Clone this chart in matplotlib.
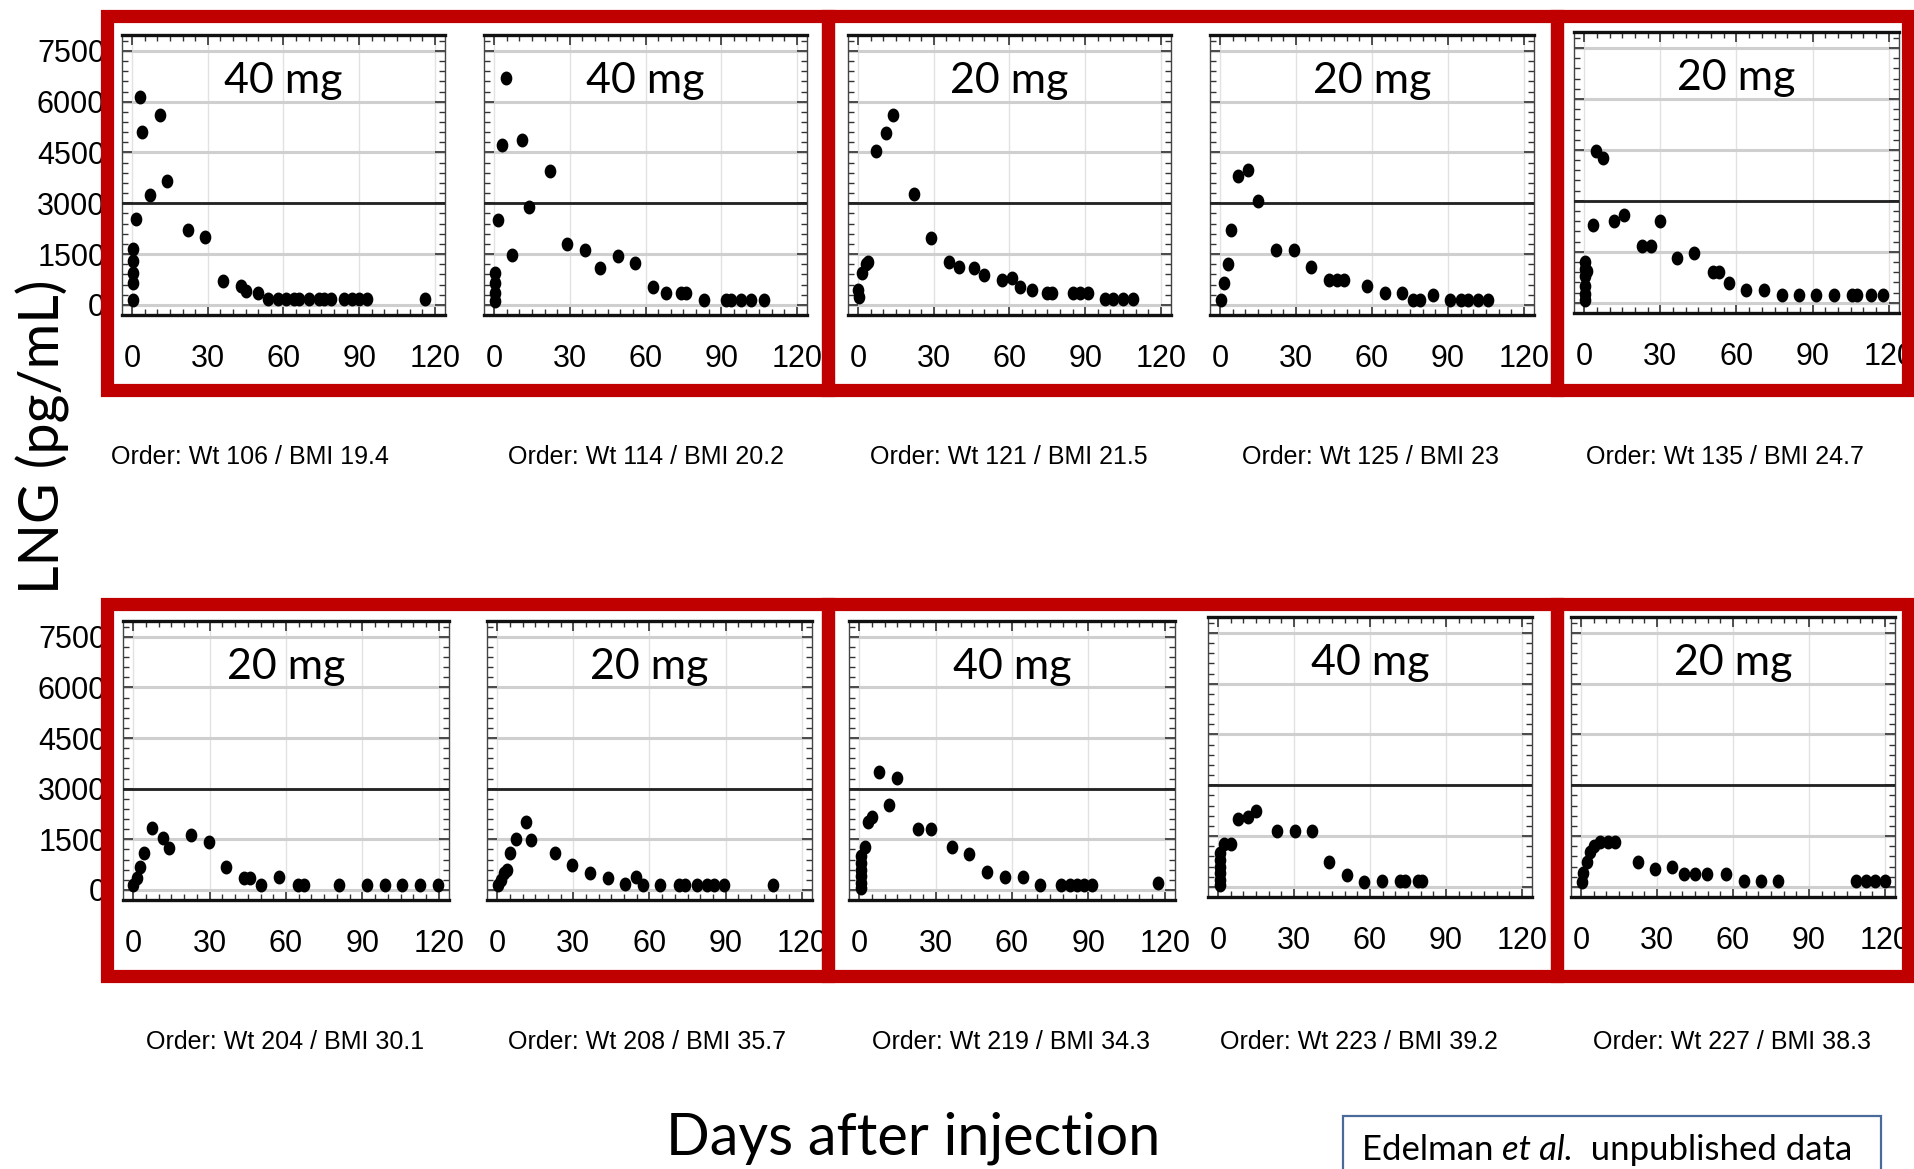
import matplotlib

matplotlib.use("Agg")
import matplotlib.pyplot as plt  # noqa: E402
from matplotlib.patches import Rectangle  # noqa: E402
from matplotlib.path import Path  # noqa: E402
from matplotlib.transforms import Affine2D  # noqa: E402
from matplotlib.ticker import MultipleLocator  # noqa: E402

# ---- data --------------------------------------------------------------
doses = ["40 mg", "40 mg", "20 mg", "20 mg", "20 mg",
         "20 mg", "20 mg", "40 mg", "40 mg", "20 mg"]
subjects = [
    "Order: Wt 106 / BMI 19.4", "Order: Wt 114 / BMI 20.2", "Order: Wt 121 / BMI 21.5",
    "Order: Wt 125 / BMI 23", "Order: Wt 135 / BMI 24.7",
    "Order: Wt 204 / BMI 30.1", "Order: Wt 208 / BMI 35.7", "Order: Wt 219 / BMI 34.3",
    "Order: Wt 223 / BMI 39.2", "Order: Wt 227 / BMI 38.3",
]

days_106 = [0.5, 0.5, 0.5, 0.5, 0.5, 1.5, 3, 4, 7, 11, 14, 22, 29, 36, 43, 45, 50,
            54, 58, 61, 64, 66, 70, 74, 76, 79, 84, 87, 90, 93, 116]
lng_106 = [150, 650, 950, 1300, 1650, 2550, 6150, 5100, 3250, 5600, 3650, 2200, 2000,
           700, 550, 400, 350, 170, 170, 170, 170, 170, 170, 170, 170, 170, 170, 170,
           170, 170, 170]

days_114 = [0.3, 0.3, 0.3, 0.3, 1.5, 3, 4.6, 7, 11, 14, 22, 29, 36, 42, 49, 56, 63,
            68, 74, 76, 83, 92, 94, 98, 102, 107]
lng_114 = [100, 350, 650, 930, 2520, 4720, 6700, 1470, 4880, 2880, 3960, 1790, 1610,
           1080, 1450, 1240, 520, 360, 340, 340, 150, 150, 150, 150, 150, 150]

days_121 = [0, 0.5, 1.4, 3, 4, 7, 11, 14, 22, 29, 36, 40, 46, 50, 57, 61, 64, 69, 75,
            77, 85, 88, 91, 98, 101, 105, 109]
lng_121 = [440, 240, 930, 1220, 1270, 4540, 5080, 5620, 3270, 1980, 1270, 1120, 1080,
           880, 730, 780, 540, 440, 340, 340, 340, 360, 360, 170, 170, 170, 170]

days_125 = [0.3, 1.4, 3, 4.2, 7, 11, 15, 22, 29, 36, 43, 46, 49, 58, 65, 72, 76, 79,
            84, 91, 95, 98, 102, 106]
lng_125 = [150, 640, 1220, 2200, 3810, 3980, 3080, 1610, 1610, 1120, 730, 730, 730,
           560, 340, 340, 150, 150, 290, 150, 150, 150, 150, 150]

days_135 = [0.5, 0.5, 0.5, 0.5, 0.5, 0.5, 1.2, 3.6, 4.7, 7.5, 11.7, 15.8, 22.8, 26.4,
            29.7, 36.7, 43.1, 50.6, 53.3, 56.9, 63.9, 70.8, 77.8, 84.7, 91.4, 98.3,
            105.3, 107.5, 113, 117.8]
lng_135 = [80, 250, 500, 800, 1000, 1200, 950, 2300, 4470, 4270, 2400, 2570, 1660, 1660,
           2420, 1310, 1480, 920, 920, 570, 380, 380, 230, 230, 230, 230, 230, 230,
           230, 230]

days_204 = [0, 1.5, 2.8, 4.2, 7.4, 11.7, 14.2, 22.7, 29.7, 36.5, 43.5, 46, 50.3, 57.3,
            64.8, 67, 80.7, 92, 98.7, 105.7, 112.7, 119.5]
lng_204 = [150, 350, 690, 1090, 1830, 1530, 1230, 1630, 1430, 690, 350, 350, 150, 380,
           150, 150, 150, 150, 150, 150, 150, 150]

days_208 = [0.4, 1.7, 2.8, 3.8, 4.9, 7.4, 11.3, 13.2, 22.7, 29.5, 36.5, 43.5, 50.5,
            54.6, 57.3, 64.3, 71.8, 73.9, 78.6, 82.8, 85.6, 89.2, 108.7]
lng_208 = [150, 300, 490, 590, 1090, 1500, 2020, 1480, 1090, 740, 510, 350, 180, 380,
           150, 150, 150, 150, 150, 150, 150, 150, 150]

days_219 = [0.8, 0.8, 0.8, 0.8, 0.8, 0.8, 2.2, 3.6, 5, 7.8, 11.9, 14.7, 23.1, 28.1,
            36.4, 43.3, 50.3, 57.2, 64.2, 71.1, 79.2, 82.8, 85.6, 88.3, 91.4, 117.5]
lng_219 = [50, 200, 400, 600, 800, 990, 1280, 2020, 2170, 3500, 2520, 3310, 1800, 1800,
           1280, 1060, 540, 380, 380, 150, 150, 150, 150, 150, 150, 200]

days_223 = [0.8, 0.8, 0.8, 0.8, 0.8, 0.8, 2.2, 5, 7.8, 12, 14.8, 23.2, 30.2, 36.9,
            43.9, 50.8, 57.8, 64.8, 72, 74, 79, 80.4]
lng_223 = [50, 200, 400, 600, 800, 1000, 1260, 1260, 2000, 2050, 2250, 1660, 1660, 1660,
           740, 350, 130, 180, 180, 180, 180, 180]

days_227 = [0.3, 0.8, 2.2, 3.6, 5, 7.3, 10.6, 13.4, 22.3, 29.3, 35.8, 40.5, 45, 49.7,
            57.3, 64.2, 71, 77.9, 108.4, 112.6, 116.2, 120]
lng_227 = [130, 420, 720, 1020, 1210, 1310, 1310, 1310, 720, 520, 600, 380, 380, 380,
           380, 180, 180, 180, 180, 180, 180, 180]

threshold = 3000
x_ticks = [0, 30, 60, 90, 120]
y_ticks = [0, 1500, 3000, 4500, 6000, 7500]

series = [(days_106, lng_106), (days_114, lng_114), (days_121, lng_121),
          (days_125, lng_125), (days_135, lng_135), (days_204, lng_204),
          (days_208, lng_208), (days_219, lng_219), (days_223, lng_223),
          (days_227, lng_227)]

# ---- layout (pixels of the 1915x1169 canvas) ----------------------------
W, H = 1915, 1169
RED = "#C00000"
NARROW = ["Liberation Sans Narrow", "Liberation Sans", "DejaVu Sans"]
HUMAN = ["Lato", "DejaVu Sans"]

# left, top, right, bottom of each panel
panel_px = [
    (122, 35, 445, 315), (484, 35, 807, 315), (848, 35, 1171, 315),
    (1210, 35, 1534, 315), (1574, 32, 1899, 313),
    (123, 621, 449, 900), (487, 621, 812, 900), (849, 621, 1175, 900),
    (1208, 617, 1532, 897), (1571, 617, 1895, 897),
]
caption_xy = [(250, 457), (646, 457), (1009, 457), (1371, 457), (1725, 457),
              (285, 1042), (647, 1042), (1011, 1042), (1359, 1042), (1732, 1042)]

fig = plt.figure(figsize=(W / 100, H / 100), dpi=100)
fig.patch.set_facecolor("white")

dot = Path.unit_circle().transformed(Affine2D().scale(0.82, 1.0))


def fig_rect(l, t, r, b):
    return [l / W, 1 - b / H, (r - l) / W, (b - t) / H]


for i, (l, t, r, b) in enumerate(panel_px):
    ax = fig.add_axes(fig_rect(l, t, r, b))
    days, lng = series[i]
    ax.plot(days, lng, linestyle="none", marker=dot, ms=9, color="black", zorder=4)
    ax.axhline(threshold, color="#222222", lw=2.0, zorder=3)

    ax.set_xlim(-4, 124)
    ax.set_ylim(-300, 7970)
    ax.set_xticks(x_ticks)
    ax.set_yticks(y_ticks)
    ax.xaxis.set_minor_locator(MultipleLocator(5))
    ax.yaxis.set_minor_locator(MultipleLocator(300))
    ax.grid(axis="y", color="#cfcfcf", lw=2.2)
    ax.grid(axis="x", color="#e2e2e2", lw=1.0)
    ax.set_axisbelow(True)

    ax.tick_params(which="both", direction="in", top=True, right=True,
                   color="#333333")
    ax.tick_params(which="major", length=7, width=1.2)
    ax.tick_params(which="minor", length=4, width=1.0)
    ax.tick_params(axis="x", pad=21, labelsize=22)
    ax.tick_params(axis="y", pad=12, labelsize=22)
    for lab in ax.get_xticklabels() + ax.get_yticklabels():
        lab.set_family(NARROW)
    if i not in (0, 5):
        ax.set_yticklabels([])

    for side in ("top", "bottom"):
        ax.spines[side].set_linewidth(2.4)
        ax.spines[side].set_color("#111111")
    for side in ("left", "right"):
        ax.spines[side].set_linewidth(1.0)
        ax.spines[side].set_color("#444444")

    ax.text(0.5, 0.835, doses[i], transform=ax.transAxes, ha="center", va="center",
            fontsize=31, family=HUMAN, color="black", zorder=5)

    cx, cy = caption_xy[i]
    fig.text(cx / W, 1 - cy / H, subjects[i], ha="center", va="center",
             fontsize=18, family=NARROW)

# red grouping boxes (top row and bottom row)
box_cols = [(107, 828), (828, 1557), (1557, 1908)]
for top, bot in [(16, 390), (604, 976)]:
    for x0, x1 in box_cols:
        fig.add_artist(Rectangle((x0 / W, 1 - bot / H), (x1 - x0) / W, (bot - top) / H,
                                 transform=fig.transFigure, fill=False, ec=RED,
                                 lw=9.5, zorder=10))

fig.text(43 / W, 1 - 437 / H, "LNG (pg/mL)", rotation=90, ha="center", va="center",
         fontsize=40, family=HUMAN)
fig.text(913 / W, 1 - 1138 / H, "Days after injection", ha="center", va="center",
         fontsize=41.5, family=HUMAN)

# source note box (runs off the bottom edge as in the slide)
fig.add_artist(Rectangle((1343 / W, -0.02), (1881 - 1343) / W, 0.02 + (H - 1116) / H,
                         transform=fig.transFigure, fill=False, ec="#4a6a9a", lw=1.6,
                         zorder=10))
bg = fig.add_axes([0, 0, 1, 1], zorder=-1)
bg.axis("off")
t1 = bg.text(1362 / W, 1 - 1150 / H, "Edelman ", ha="left", va="center",
             fontsize=25, family=HUMAN)
t2 = bg.annotate("et al.", xy=(1, 0.5), xycoords=t1, ha="left", va="center",
                 fontsize=25, family=HUMAN, style="italic")
bg.annotate("  unpublished data", xy=(1, 0.5), xycoords=t2, ha="left", va="center",
            fontsize=25, family=HUMAN)

fig.savefig("out.png", dpi=100)
